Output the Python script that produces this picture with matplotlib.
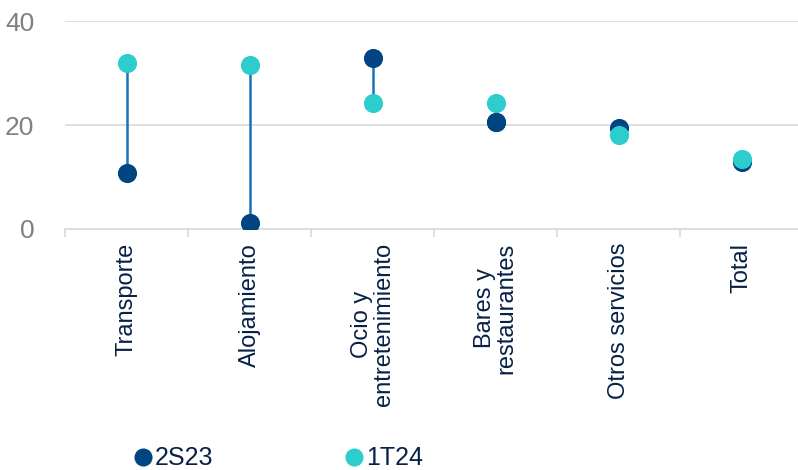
import matplotlib.pyplot as plt
from matplotlib.lines import Line2D

categorias = ["Transporte", "Alojamiento", "Ocio y\nentretenimiento",
              "Bares y\nrestaurantes", "Otros servicios", "Total"]
s2_23 = [10.8, 1.1, 32.9, 20.6, 19.4, 12.9]
t1_24 = [31.9, 31.5, 24.2, 24.2, 18.1, 13.5]
y_ticks = [0, 20, 40]

c_2s23 = "#004481"
c_1t24 = "#2DCCCD"
c_linea = "#1973B8"
c_texto = "#072146"

plt.rcParams['font.family'] = ['Liberation Sans', 'DejaVu Sans']

fig = plt.figure(figsize=(7.98, 4.7), dpi=100)
ax = fig.add_axes([0.0815, 0.513, 0.925, 0.442])

x = list(range(len(categorias)))

# lineas que unen los dos periodos
ax.vlines(x, s2_23, t1_24, color=c_linea, lw=1.8, zorder=2)
ax.scatter(x, s2_23, s=190, color=c_2s23, zorder=3, linewidths=0)
ax.scatter(x, t1_24, s=190, color=c_1t24, zorder=4, linewidths=0)
# en bares el punto oscuro va encima
ax.scatter([x[3]], [s2_23[3]], s=190, color=c_2s23, zorder=5, linewidths=0)

ax.set_xlim(-0.5, len(categorias) - 0.5)
ax.set_ylim(0, 40)
ax.set_yticks(y_ticks)
ax.grid(axis='y', color='#D9D9D9', lw=1.2)
ax.set_axisbelow(True)
for s in ['top', 'right', 'left']:
    ax.spines[s].set_visible(False)
ax.spines['bottom'].set_color('#D9D9D9')
ax.spines['bottom'].set_linewidth(1.2)

ax.tick_params(axis='y', length=0, labelsize=19, labelcolor='#808080', pad=22)
ax.set_xticks(x)
ax.set_xticklabels(categorias, rotation=90, fontsize=17, color=c_texto,
                   linespacing=1.0)
ax.tick_params(axis='x', length=0, pad=10)
# marcas entre categorias
ax.set_xticks([i - 0.5 for i in range(len(categorias) + 1)], minor=True)
ax.tick_params(axis='x', which='minor', length=6, color='#D9D9D9', width=1.2)

handles = [Line2D([], [], marker='o', ls='', color=c_2s23, markersize=12),
           Line2D([], [], marker='o', ls='', color=c_1t24, markersize=12)]
fig.legend(handles, ["2S23", "1T24"], loc='center left',
           bbox_to_anchor=(0.135, 0.025), ncol=2, frameon=False,
           fontsize=18, handletextpad=0.0, columnspacing=5.1,
           handlelength=1.0, labelcolor=c_texto)

fig.savefig("out.png", dpi=100)
